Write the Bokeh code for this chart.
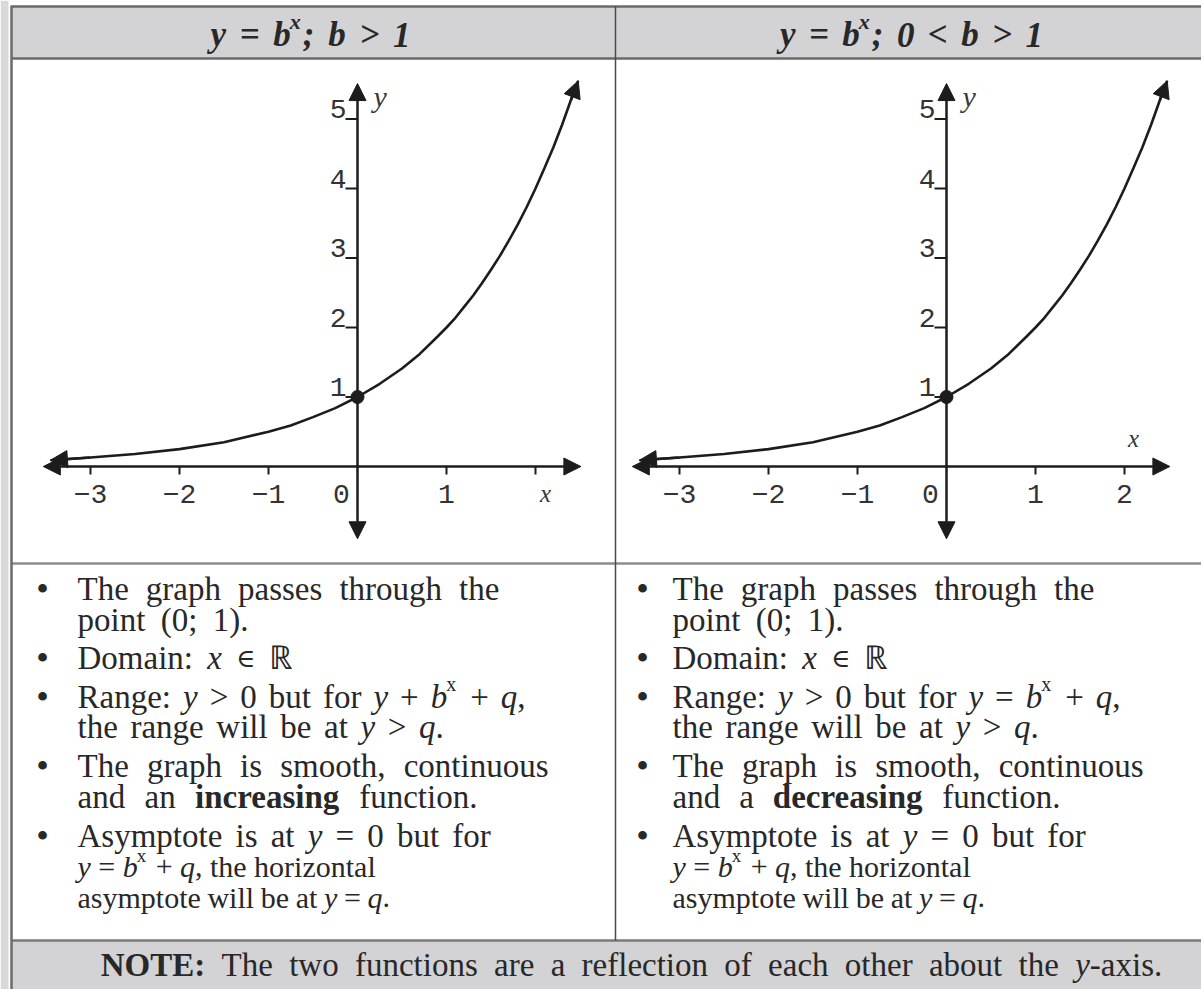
import re
from collections import defaultdict
from bokeh.plotting import figure
from bokeh.models import Range1d, ColumnDataSource, Arrow, NormalHead
from bokeh.core.properties import value
from bokeh.embed import file_html
from bokeh.resources import INLINE

# ---------------- data ----------------
curve_x = [-3.45, -3.0, -2.5, -2.0, -1.5, -1.0, -0.75, -0.5, -0.25, 0.0, 0.25, 0.5, 0.7,
           0.9, 1.0, 1.1, 1.2, 1.3, 1.4, 1.5, 1.6, 1.7, 1.8, 1.9, 2.0, 2.1, 2.2, 2.3, 2.4, 2.48]
curve_y = [0.09, 0.13, 0.18, 0.25, 0.35, 0.5, 0.59, 0.71, 0.84, 1.0, 1.19, 1.41, 1.62,
           1.87, 2.0, 2.14, 2.3, 2.46, 2.64, 2.83, 3.03, 3.25, 3.48, 3.73, 4.0, 4.29, 4.59,
           4.92, 5.28, 5.55]
point_x = [0]
point_y = [1]
x_ticks = [-3, -2, -1, 1, 2]
left_x_labels = ["\u22123", "\u22122", "\u22121", "1"]
right_x_labels = ["\u22123", "\u22122", "\u22121", "1", "2"]
y_ticks = [1, 2, 3, 4, 5]
y_labels = ["1", "2", "3", "4", "5"]
x_axis_extent = [-3.53, 2.51]
y_axis_extent = [-1.04, 5.51]

headers = [
    [("y = b", "bi"), ("x", "supbi"), ("; b > 1", "bi")],
    [("y = b", "bi"), ("x", "supbi"), ("; 0 < b > 1", "bi")],
]

left_bullets = [
    [[("The graph passes through the", "n")], [("point (0; 1).", "n")]],
    [[("Domain: ", "n"), ("x", "i"), (" ", "n"), ("\u2208", "sym"), (" \u211d", "n")]],
    [[("Range: ", "n"), ("y", "i"), (" > 0 but for ", "n"), ("y", "i"), (" + ", "n"),
      ("b", "i"), ("x", "supn"), (" + ", "n"), ("q", "i"), (",", "n")],
     [("the range will be at ", "n"), ("y", "i"), (" > ", "n"), ("q", "i"), (".", "n")]],
    [[("The graph is smooth, continuous", "n")],
     [("and an ", "n"), ("increasing", "b"), (" function.", "n")]],
    [[("Asymptote is at ", "n"), ("y", "i"), (" = 0 but for", "n")],
     [("y", "i"), (" = ", "n"), ("b", "i"), ("x", "supn"), (" + ", "n"), ("q", "i"), (", the horizontal", "n")],
     [("asymptote will be at ", "n"), ("y", "i"), (" = ", "n"), ("q", "i"), (".", "n")]],
]
right_bullets = [
    [[("The graph passes through the", "n")], [("point (0; 1).", "n")]],
    [[("Domain: ", "n"), ("x", "i"), (" ", "n"), ("\u2208", "sym"), (" \u211d", "n")]],
    [[("Range: ", "n"), ("y", "i"), (" > 0 but for ", "n"), ("y", "i"), (" = ", "n"),
      ("b", "i"), ("x", "supn"), (" + ", "n"), ("q", "i"), (",", "n")],
     [("the range will be at ", "n"), ("y", "i"), (" > ", "n"), ("q", "i"), (".", "n")]],
    [[("The graph is smooth, continuous", "n")],
     [("and a ", "n"), ("decreasing", "b"), (" function.", "n")]],
    [[("Asymptote is at ", "n"), ("y", "i"), (" = 0 but for", "n")],
     [("y", "i"), (" = ", "n"), ("b", "i"), ("x", "supn"), (" + ", "n"), ("q", "i"), (", the horizontal", "n")],
     [("asymptote will be at ", "n"), ("y", "i"), (" = ", "n"), ("q", "i"), (".", "n")]],
]
note = [("NOTE:", "b"), (" The two functions are a reflection of each other about the ", "n"),
        ("y", "i"), ("-axis.", "n")]

# ---------------- layout / style ----------------
W, H = 1201, 989
SERIF = "Liberation Serif"
MONO = "Liberation Mono"
INK = "#282828"
LINE = "#1c1c1c"
RULE = "#6a6a6a"
FILL = "#d3d3d5"
TEXT_DY = -9          # compensates the renderer's alphabetic-baseline placement

X_UNIT, Y_UNIT = 89.0, 69.5
ORIGIN_Y = 466
L_ORIGIN_X, R_ORIGIN_X = 357, 946

p = figure(width=W, height=H, x_range=Range1d(0, W), y_range=Range1d(H, 0),
           output_backend="svg", toolbar_location=None, min_border=0,
           x_axis_location=None, y_axis_location=None)
p.grid.visible = False
p.outline_line_color = None
p.background_fill_color = "white"
p.border_fill_color = "white"
p.extra_x_ranges = {
    "lx": Range1d(-L_ORIGIN_X / X_UNIT, (W - L_ORIGIN_X) / X_UNIT),
    "rx": Range1d(-R_ORIGIN_X / X_UNIT, (W - R_ORIGIN_X) / X_UNIT),
}
p.extra_y_ranges = {"gy": Range1d((ORIGIN_Y - H) / Y_UNIT, ORIGIN_Y / Y_UNIT)}

# ---------------- table frame ----------------
p.quad(left=[0], right=[8], top=[0], bottom=[H], fill_color="#d9d9d9", line_color=None)
p.quad(left=[11, 11], right=[W, W], top=[6, 940], bottom=[58, H], fill_color=FILL, line_color=None)
p.segment(x0=[11, 11, 11, 11], y0=[6, 58, 563, 940], x1=[W, W, W, W], y1=[6, 58, 563, 940],
          line_color=[RULE, RULE, "#8c8c8c", "#7a7a7a"], line_width=2.5)
p.segment(x0=[11], y0=[5], x1=[11], y1=[H], line_color=RULE, line_width=2.5)
p.segment(x0=[615], y0=[6], x1=[615], y1=[940], line_color="#4a4a4a", line_width=1.5)

# ---------------- rich text helper ----------------
REG = {' ': 250, '(': 333, ')': 333, '+': 564, ',': 250, '-': 333, '.': 250, '0': 500, '1': 500,
       ':': 278, ';': 278, '<': 564, '=': 564, '>': 564, 'A': 722, 'D': 722, 'N': 722, 'O': 722,
       'R': 667, 'T': 611, 'E': 611, 'a': 444, 'b': 500, 'c': 444, 'd': 500, 'e': 444, 'f': 333,
       'g': 500, 'h': 500, 'i': 278, 'l': 278, 'm': 778, 'n': 500, 'o': 500, 'p': 500, 'r': 333,
       's': 389, 't': 278, 'u': 500, 'w': 722, 'x': 500, 'y': 500, 'z': 444, 'v': 500,
       '\u2208': 667, '\u211d': 722}
ITAL = {'x': 444, 'y': 444, 'q': 500, 'b': 500, ' ': 250}
BOLD = {'a': 500, 'c': 444, 'd': 556, 'e': 444, 'g': 500, 'i': 278, 'n': 556, 'r': 444, 's': 389,
        'N': 722, 'O': 778, 'T': 667, 'E': 667, ':': 333, ' ': 250}
BOLDIT = {'y': 444, ' ': 250, '=': 570, 'b': 500, ';': 333, '>': 570, '1': 500, '0': 500,
          '<': 570, 'x': 500}
SYM = {'\u2208': 560}
TABLES = {"n": REG, "i": ITAL, "b": BOLD, "bi": BOLDIT, "sym": SYM}
STYLES = {"n": "normal", "i": "italic", "b": "bold", "bi": "bold italic", "sym": "normal"}
FONTS = {"sym": "DejaVu Serif"}
SIZE_SCALE = {"sym": 0.8}


def tw(txt, st, fs):
    t = TABLES[st]
    return sum(t.get(c, REG.get(c, 500)) for c in txt) / 1000.0 * fs


groups = defaultdict(lambda: {"x": [], "y": [], "text": []})


def place(segs, y, rfs, lfs, x0=None, center=None):
    """Lay a line out word by word: glyphs drawn at rfs, the line spread (justified
    on its spaces) to the width it has at lfs, as in the picture's wide setting."""
    toks = []
    for txt, st in segs:
        if st.startswith("sup"):
            st = st[3:]
            f = round(rfs * 0.62)
            toks.append((txt, st, f, -rfs * 0.38, tw(txt, st, f) + 1, tw(txt, st, lfs * 0.62) + 1, False))
            continue
        f = round(rfs * SIZE_SCALE.get(st, 1.0))
        for tok in re.split(r"( +)", txt):
            if not tok:
                continue
            toks.append((tok, st, f, 0, tw(tok, st, rfs), tw(tok, st, lfs), tok.startswith(" ")))
    target = sum(t[5] for t in toks)
    rendered = sum(t[4] for t in toks)
    nsp = sum(1 for t in toks if t[6])
    extra = (target - rendered) / nsp if nsp else 0.0
    total = rendered + extra * nsp
    x = x0 if center is None else center - total / 2
    for txt, st, f, dy, wr, wl, sp in toks:
        if sp:
            x += wr + extra
            continue
        g = groups[(st, f)]
        g["x"].append(x - (1 if dy else 0))
        g["y"].append(y + dy + TEXT_DY)
        g["text"].append(txt)
        x += wr


# headers
place(headers[0], 43, 35, 40, center=310)
place(headers[1], 43, 35, 40, center=911)

# bullets
BASELINES = [597, 628, 666, 705, 735, 774, 805, 844, 875, 906]
RENDER_FS = [33, 33, 33, 33, 33, 33, 33, 33, 30, 30]
LAYOUT_FS = [36, 36, 36, 36, 36, 36, 36, 36, 30, 29.5]
bullet_pts = defaultdict(list)
for bullets, bx, tx in [(left_bullets, 42, 77), (right_bullets, 642, 672)]:
    i = 0
    for b in bullets:
        bullet_pts["x"].append(bx)
        bullet_pts["y"].append(BASELINES[i] + TEXT_DY)
        for ln in b:
            place(ln, BASELINES[i], RENDER_FS[i], LAYOUT_FS[i], x0=tx)
            i += 1
place(note, 973, 33, 36.3, center=631)

for (st, f), g in groups.items():
    p.text(x="x", y="y", text="text", source=ColumnDataSource(g),
           text_font=value(FONTS.get(st, SERIF)), text_font_size=value(f"{f}px"),
           text_font_style=STYLES[st], text_color=INK,
           text_align="left", text_baseline="alphabetic")

p.text(x=bullet_pts["x"], y=bullet_pts["y"], text=["\u2022"] * len(bullet_pts["x"]),
       text_font=value(SERIF), text_font_size=value("36px"), text_color=INK,
       text_align="center", text_baseline="alphabetic")


# ---------------- graphs ----------------
def head(size):
    return NormalHead(size=size, fill_color=LINE, line_color=LINE, line_width=1)


def draw_graph(xr, labels, x_name_above):
    kw = dict(x_range_name=xr, y_range_name="gy")
    p.add_layout(Arrow(start=head(17), end=head(17), x_start=x_axis_extent[0], y_start=0,
                       x_end=x_axis_extent[1], y_end=0, line_color=LINE, line_width=2.5, **kw))
    p.add_layout(Arrow(start=head(17), end=head(17), x_start=0, y_start=y_axis_extent[0],
                       x_end=0, y_end=y_axis_extent[1], line_color=LINE, line_width=2.5, **kw))
    p.segment(x0=x_ticks, y0=0, x1=x_ticks, y1=-8 / Y_UNIT, line_color=LINE, line_width=2, **kw)
    p.segment(x0=0, y0=y_ticks, x1=-12 / X_UNIT, y1=y_ticks, line_color=LINE, line_width=2, **kw)
    p.line(curve_x, curve_y, line_color=LINE, line_width=2.6, **kw)
    p.add_layout(Arrow(end=head(17), x_start=curve_x[-2], y_start=curve_y[-2],
                       x_end=curve_x[-1], y_end=curve_y[-1], line_color=LINE, line_width=2.6, **kw))
    p.add_layout(Arrow(end=head(17), x_start=curve_x[1], y_start=curve_y[1],
                       x_end=curve_x[0], y_end=curve_y[0], line_color=LINE, line_width=2.6, **kw))
    p.scatter(point_x, point_y, size=13, color=LINE, **kw)
    mono = dict(text_font=value(MONO), text_font_size=value("28px"), text_color="#333333")
    p.text(x=x_ticks[:len(labels)], y=0, text=labels, y_offset=27, text_align="center",
           text_baseline="middle", **mono, **kw)
    p.text(x=[0], y=[0], text=["0"], x_offset=-16, y_offset=27, text_align="center",
           text_baseline="middle", **mono, **kw)
    p.text(x=0, y=y_ticks, text=y_labels, x_offset=-11, y_offset=-1 + TEXT_DY, text_align="right",
           text_baseline="alphabetic", **mono, **kw)
    ital = dict(text_font=value(SERIF), text_font_style="italic", text_color="#3a3a3a")
    p.text(x=[0], y=[y_axis_extent[1]], text=["y"], x_offset=16, y_offset=22 + TEXT_DY,
           text_align="left", text_baseline="alphabetic", text_font_size=value("30px"), **ital, **kw)
    if x_name_above:
        p.text(x=[x_ticks[-1]], y=[0], text=["x"], x_offset=9, y_offset=-19 + TEXT_DY, text_align="center",
               text_baseline="alphabetic", text_font_size=value("25px"), **ital, **kw)
    else:
        p.text(x=[x_ticks[-1]], y=[0], text=["x"], x_offset=10, y_offset=36 + TEXT_DY, text_align="center",
               text_baseline="alphabetic", text_font_size=value("25px"), **ital, **kw)


draw_graph("lx", left_x_labels, False)
draw_graph("rx", right_x_labels, True)

open("out.html", "w").write(file_html(p, INLINE))
